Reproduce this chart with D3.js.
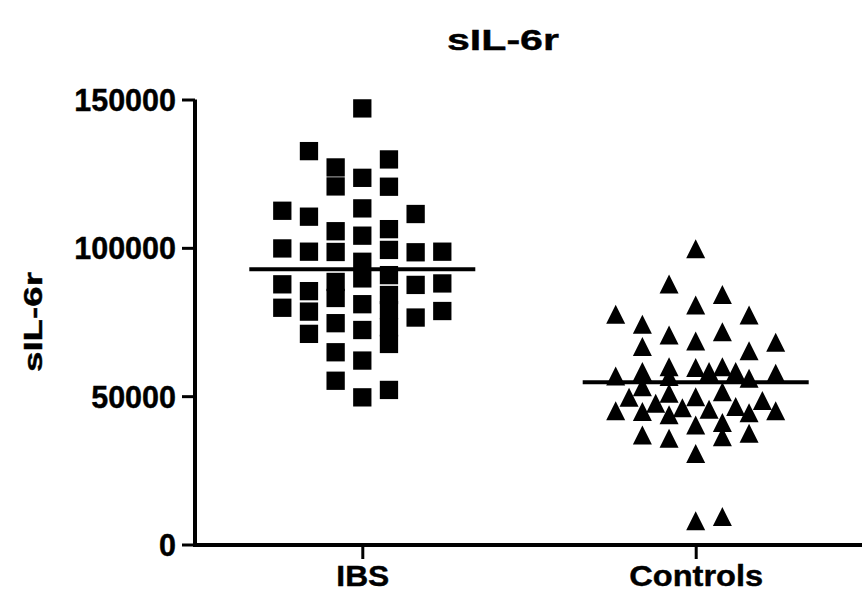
<!DOCTYPE html>
<html>
<head>
<meta charset="utf-8">
<script src="https://d3js.org/d3.v7.min.js"></script>
<style>
  body { margin: 0; background: #fff; }
  text { font-family: "Liberation Sans", Arial, sans-serif; font-weight: bold; fill: #000; }
</style>
</head>
<body>
<script>
// categories and values
const categories = ["IBS", "Controls"];
const categoryLabelWidth = [53, 134];
const yTicks = [0, 50000, 100000, 150000];

// IBS values (squares) and the scatter column each one sits in
const ibsValues = [
  112500, 99800, 87700, 79800,
  132600, 110500, 98700, 85400, 78500, 71000,
  127100, 120700, 105600, 98600, 88500, 83100, 74600, 64800, 55200,
  147000, 123600, 113300, 104100, 95300, 89700, 81000, 72300, 62000, 49600,
  129800, 120600, 106300, 99300, 90800, 84100, 79000, 73200, 67600, 52100,
  111400, 98500, 87500, 76500,
  98700, 88000, 78700
];
const ibsSlot = [
  -3, -3, -3, -3,
  -2, -2, -2, -2, -2, -2,
  -1, -1, -1, -1, -1, -1, -1, -1, -1,
  0, 0, 0, 0, 0, 0, 0, 0, 0, 0,
  1, 1, 1, 1, 1, 1, 1, 1, 1, 1,
  2, 2, 2, 2,
  3, 3, 3
];

// Controls values (triangles)
const controlValues = [
  99700, 87800, 84300, 80700, 77600, 77400, 74200, 70600, 71700, 68600, 68200, 66700, 65300,
  56800, 58300, 59900, 56600, 59700, 58300, 59900, 58300, 56000, 57700,
  53200, 51000, 49800, 51500, 49600, 47600, 46100, 45600, 46500, 48500,
  45100, 44800, 43700, 44400, 45100, 40300, 41100, 36900, 35800, 36300, 37500,
  30700, 8000, 9400
];
const controlSlot = [
  0, -1, 1, 0, -3, 2, -2, -1, 1, 0, 3, -2, 2,
  -3, -2, -1, -1, 0, 0.5, 1, 1.5, 2, 3,
  -2, -1, 0, 1, -2.5, -1.5, -0.5, 0.5, 1.5, 2.5,
  -3, -2, -1, 2, 3, 0, 1, -2, -1, 1, 2,
  0, 0, 1
];

// group means drawn as horizontal lines
const groupMeans = [92800, 54700];

const width = 864, height = 593;

const svg = d3.select("body")
  .append("svg")
  .attr("width", width)
  .attr("height", height);

const y = d3.scaleLinear().domain([0, 150000]).range([544.5, 99.5]);
const x = d3.scalePoint().domain(categories).range([362.3, 695.7]);
const slot = d3.scaleLinear().domain([-3, 3]).range([-80, 80]);

// title
svg.append("text")
  .attr("x", 503)
  .attr("y", 50)
  .attr("text-anchor", "middle")
  .attr("textLength", 112)
  .attr("lengthAdjust", "spacingAndGlyphs")
  .style("font-size", "30px")
  .style("stroke", "#000")
  .style("stroke-width", 0.4)
  .text("sIL-6r");

// y axis label
svg.append("text")
  .attr("transform", "translate(42, 322) rotate(-90)")
  .attr("text-anchor", "middle")
  .attr("textLength", 100)
  .attr("lengthAdjust", "spacingAndGlyphs")
  .style("font-size", "26px")
  .style("stroke", "#000")
  .style("stroke-width", 0.4)
  .text("sIL-6r");

// y axis
const yAxis = svg.append("g")
  .attr("transform", "translate(195, 0)")
  .call(d3.axisLeft(y).tickValues(yTicks).tickFormat(d3.format("d"))
    .tickSize(13).tickSizeOuter(0).tickPadding(6));
yAxis.select(".domain").attr("stroke-width", 4).attr("d", "M0," + y(150000) + "V" + (y(0) + 2));
yAxis.selectAll(".tick line").attr("stroke-width", 3);
yAxis.selectAll(".tick text")
  .style("font-size", "30.5px")
  .style("font-family", "'Liberation Sans', Arial, sans-serif")
  .style("font-weight", "bold")
  .style("stroke", "#000")
  .style("stroke-width", 0.4)
  .attr("dy", "0.36em");

// x axis
const xAxis = svg.append("g")
  .attr("transform", "translate(0, 545)")
  .call(d3.axisBottom(x).tickSize(14).tickSizeOuter(0).tickPadding(6));
xAxis.select(".domain").attr("stroke-width", 4).attr("d", "M193,0H862");
xAxis.selectAll(".tick line").attr("stroke-width", 3);
xAxis.selectAll(".tick text")
  .style("font-size", "29.5px")
  .style("font-family", "'Liberation Sans', Arial, sans-serif")
  .style("font-weight", "bold")
  .style("stroke", "#000")
  .style("stroke-width", 0.4)
  .attr("textLength", (d, i) => categoryLabelWidth[i])
  .attr("lengthAdjust", "spacingAndGlyphs");

// IBS squares
const sq = 18.3;
svg.selectAll("rect.ibs")
  .data(ibsValues)
  .enter()
  .append("rect")
  .attr("class", "ibs")
  .attr("x", (d, i) => x("IBS") + slot(ibsSlot[i]) - sq / 2)
  .attr("y", d => y(d) - sq / 2)
  .attr("width", sq)
  .attr("height", sq)
  .attr("fill", "#000");

// Controls triangles
const tri = 9.5;
svg.selectAll("path.ctrl")
  .data(controlValues)
  .enter()
  .append("path")
  .attr("class", "ctrl")
  .attr("transform", (d, i) => `translate(${x("Controls") + slot(controlSlot[i])}, ${y(d)})`)
  .attr("d", `M0,${-tri}L${tri},${tri}L${-tri},${tri}Z`)
  .attr("fill", "#000");

// mean lines
svg.selectAll("line.mean")
  .data(groupMeans)
  .enter()
  .append("line")
  .attr("class", "mean")
  .attr("x1", (d, i) => x(categories[i]) - 113)
  .attr("x2", (d, i) => x(categories[i]) + 113)
  .attr("y1", d => y(d))
  .attr("y2", d => y(d))
  .attr("stroke", "#000")
  .attr("stroke-width", 4);
</script>
</body>
</html>
